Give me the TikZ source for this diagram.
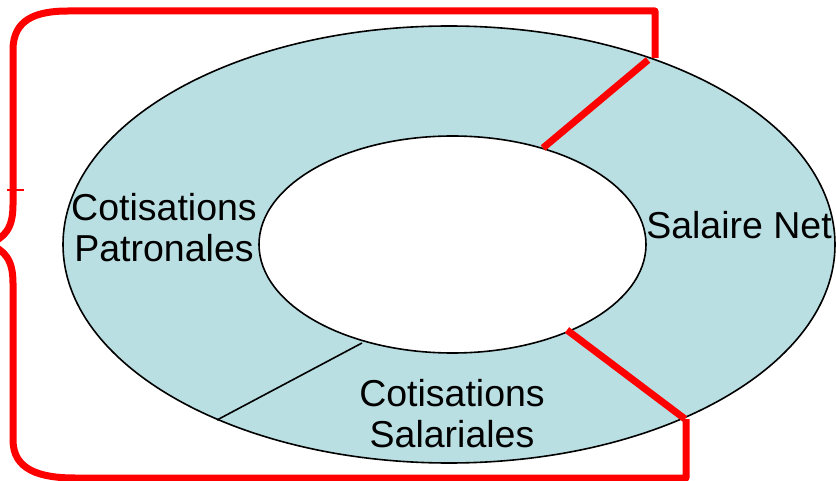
\documentclass[tikz,border=0pt]{standalone}
\usepackage{fontspec}
\setmainfont{Liberation Sans}
\usetikzlibrary{positioning}
\definecolor{ringblue}{RGB}{186,223,227}

\begin{document}
\begin{tikzpicture}[x=1pt, y=-1pt,
    bracket/.style={red, line width=7pt, line join=round},
    ringline/.style={black, line width=1.6pt},
    ringtext/.style={font=\fontsize{37.5}{41}\selectfont, align=center, inner sep=0pt}]
  \useasboundingbox (0,0) rectangle (836,481);

  % Ring
  \draw[ringline, fill=ringblue] (449,244.5) ellipse [x radius=386, y radius=218.5];
  \draw[ringline, fill=white] (452.5,244.5) ellipse [x radius=193.5, y radius=108.5];

  % Divider between the two kinds of cotisations
  \coordinate (patIn) at (362,343);
  \coordinate (patOut) at (217,420);
  \draw[ringline] (patIn) -- (patOut);

  % Labels
  \node[ringtext] (patronales) at (164,228) {Cotisations\\Patronales};
  \node[ringtext] (net) at (739,225) {Salaire Net};
  \node[ringtext] (salariales) at (452,414) {Cotisations\\Salariales};

  % --- RED BRACE ---
  \coordinate (netIn) at (543,148);
  \coordinate (netOut) at (648,60);
  \coordinate (salIn) at (567,330);
  \coordinate (salOut) at (685,419);
  \draw[bracket] (netIn) -- (netOut);
  \draw[bracket] (salIn) -- (salOut);
  \draw[bracket] (655,58) -- (655,11) -- (68,11)
    .. controls (35,11) and (13,20) .. (13,50) -- (13,205)
    .. controls (13,228) and (5,238) .. (-12,244)
    .. controls (5,250) and (13,260) .. (13,283) -- (13,440)
    .. controls (13,470) and (40,478) .. (75,478) -- (686,478) -- (686,419);
  \draw[red, line width=2.5pt] (7,190) -- (24,190);
\end{tikzpicture}
\end{document}
